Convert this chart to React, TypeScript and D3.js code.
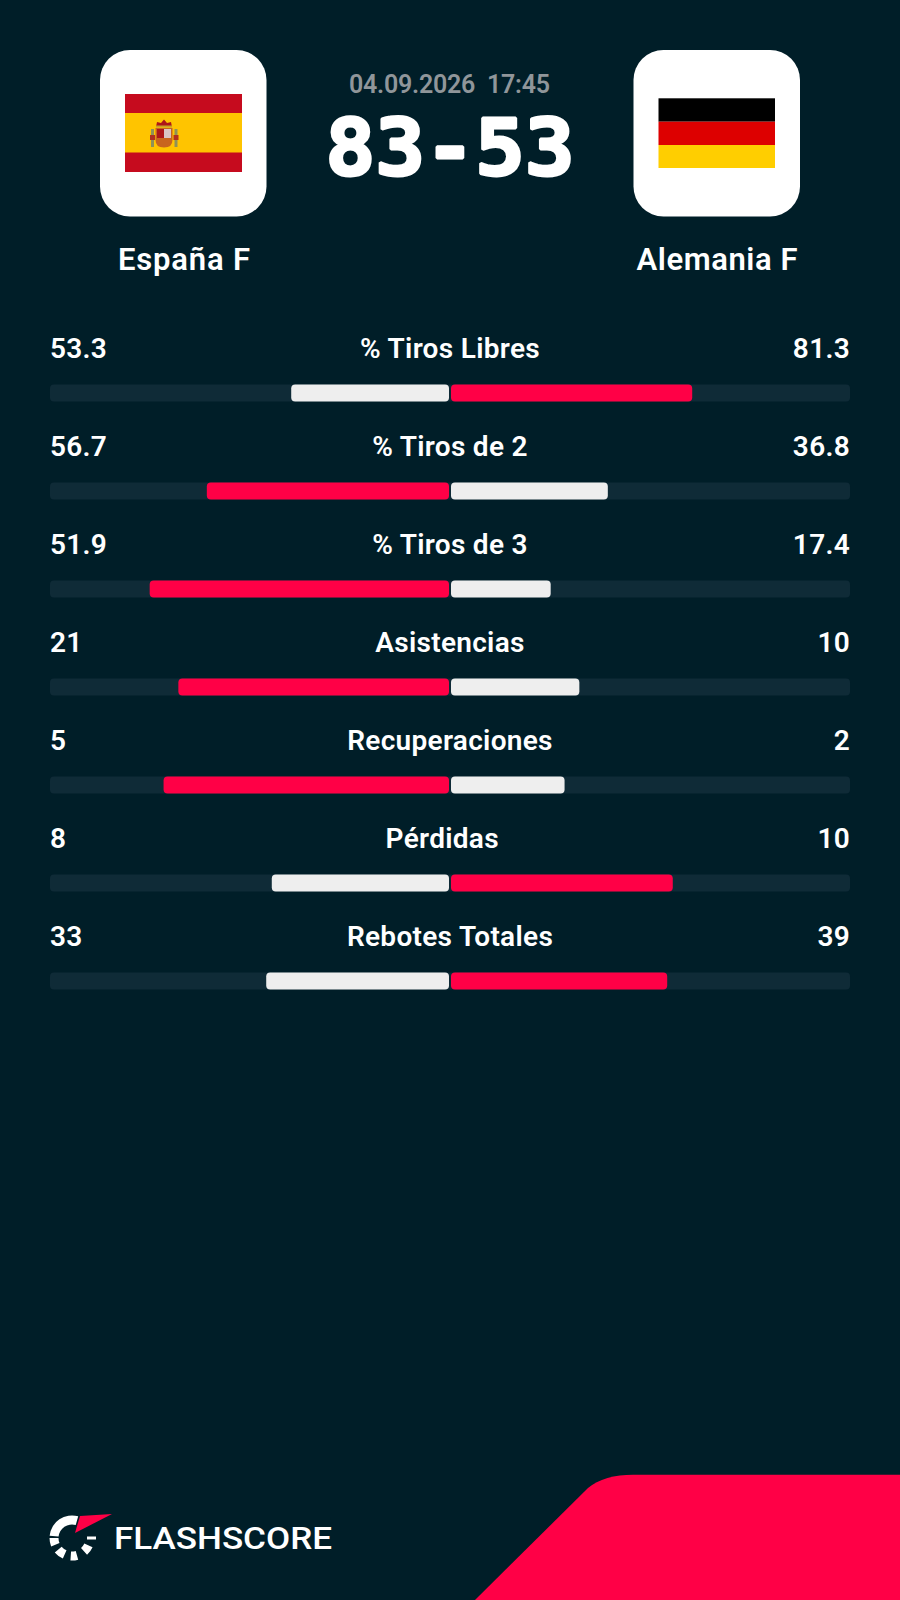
import React from "react";
import * as d3 from "d3";

const statLabels = ["% Tiros Libres", "% Tiros de 2", "% Tiros de 3", "Asistencias", "Recuperaciones", "Pérdidas", "Rebotes Totales"];
const homeValues = [53.3, 56.7, 51.9, 21, 5, 8, 33];
const awayValues = [81.3, 36.8, 17.4, 10, 2, 10, 39];
const homeTeam = "España F";
const awayTeam = "Alemania F";
const matchDate = "04.09.2026";
const matchTime = "17:45";
const score = "83-53";
const brand = "FLASHSCORE";

const BG = "#001E28";
const TRACK = "#0F2B37";
const RED = "#FF0046";
const LIGHT = "#EEEEEE";
const FONT = "Roboto, sans-serif";
const DIGIT_W = 15.5;

const rowY = d3.scaleLinear().domain([0, 1]).range([358, 456]);
const share = d3.scaleLinear().domain([0, 1]).range([0, 401]);

function Logo() {
  const arc = d3.arc();
  const seg = (a: number, b: number, r0 = 13.5, r1 = 22.5) =>
    arc({ innerRadius: r0, outerRadius: r1, startAngle: (a * Math.PI) / 180, endAngle: (b * Math.PI) / 180 }) as string;
  return (
    <g>
      <g transform="translate(72,1538)" fill="#fff">
        <path d={seg(-84, 16)} />
        <path d={seg(-112, -90)} />
        <path d={seg(-156, -130)} />
        <path d={seg(-196, -176)} />
        <path d={seg(-246, -222)} />
      </g>
      <rect x={87} y={1536.5} width={9} height={3} fill="#fff" />
      <polygon points="112,1514 80,1516 75,1533" fill={RED} />
      <text x={114} y={1549} fontFamily={FONT} fontSize={32} fontWeight={500} fill="#fff" textLength={218} lengthAdjust="spacingAndGlyphs">
        {brand}
      </text>
    </g>
  );
}

function SpainFlag() {
  return (
    <g>
      <rect x={125} y={94} width={117} height={78} fill="#C60B1E" />
      <rect x={125} y={113} width={117} height={39.5} fill="#FFC400" />
      <g>
        <path d="M156,127 L157,122 L161,123 L164,119.5 L167,123 L171,122 L172,127 Z" fill="#AD1519" />
        <rect x={156} y={125.5} width={16} height={2} fill="#C8A028" />
        <path d="M155.5,128 H172.5 V140 Q172.5,147.5 164,147.5 Q155.5,147.5 155.5,140 Z" fill="#C8641E" />
        <rect x={164} y={129} width={7} height={9} fill="#D9C4C4" />
        <rect x={157} y={129} width={7} height={9} fill="#AD1519" />
        <rect x={151} y={129} width={3} height={18} fill="#8F9158" />
        <rect x={174.5} y={129} width={3} height={18} fill="#8F9158" />
        <rect x={150} y={135} width={5} height={5} fill="#B03020" />
        <rect x={173.5} y={135} width={5} height={5} fill="#B03020" />
      </g>
    </g>
  );
}

function GermanyFlag() {
  return (
    <g>
      <rect x={658.5} y={98.3} width={116.5} height={23.4} fill="#000" />
      <rect x={658.5} y={121.7} width={116.5} height={23.3} fill="#DD0000" />
      <rect x={658.5} y={145} width={116.5} height={23} fill="#FFCE00" />
    </g>
  );
}

export default function App() {
  const t = { fontFamily: FONT, fill: "#fff", fontWeight: 600 };
  return (
    <svg width={900} height={1600} viewBox="0 0 900 1600" style={{ position: "absolute", left: 0, top: 0, display: "block" }}>
      <rect width={900} height={1600} fill={BG} />

      <rect x={100} y={50} width={166.5} height={166.5} rx={30} fill="#fff" />
      <rect x={633.5} y={50} width={166.5} height={166.5} rx={30} fill="#fff" />
      <SpainFlag />
      <GermanyFlag />

      <text x={449.5} y={93} textAnchor="middle" fontFamily={FONT} fontSize={25} fontWeight={600} fill="#90969A" xmlSpace="preserve" textLength={201} lengthAdjust="spacing">
        {matchDate + "  " + matchTime}
      </text>
      <text x={450} y={174.5} textAnchor="middle" fontFamily="'DejaVu Sans Mono', monospace" fontSize={78} fontWeight={700} fill="#fff" stroke="#fff" strokeWidth={3} strokeLinejoin="bevel" textLength={249} lengthAdjust="spacingAndGlyphs">
        {score}
      </text>

      <text {...t} x={184} y={270} textAnchor="middle" fontSize={31} textLength={132} lengthAdjust="spacing">{homeTeam}</text>
      <text {...t} x={717} y={270} textAnchor="middle" fontSize={31} textLength={161} lengthAdjust="spacing">{awayTeam}</text>

      {statLabels.map((label, i) => {
        const h = homeValues[i];
        const a = awayValues[i];
        const total = h + a;
        const y = rowY(i);
        const hw = share(h / total);
        const aw = share(a / total);
        const labelX = 450 + ((String(h).length - String(a).length) * DIGIT_W) / 2;
        return (
          <g key={label}>
            <text {...t} x={50} y={y} fontSize={28} letterSpacing={0.3}>{String(h)}</text>
            <text {...t} x={labelX} y={y} textAnchor="middle" fontSize={28} letterSpacing={0.3}>{label}</text>
            <text {...t} x={850} y={y} textAnchor="end" fontSize={28} letterSpacing={0.3}>{String(a)}</text>
            <rect x={50} y={y + 26.5} width={800} height={17} rx={4} fill={TRACK} />
            <rect x={450 - hw} y={y + 26.5} width={hw - 1} height={17} rx={4} fill={h > a ? RED : LIGHT} />
            <rect x={451} y={y + 26.5} width={aw - 1} height={17} rx={4} fill={a > h ? RED : LIGHT} />
          </g>
        );
      })}

      <Logo />
      <path d="M475,1600 L588,1488 C598,1479 615,1474.7 633,1474.7 L900,1474.7 L900,1600 Z" fill={RED} />
    </svg>
  );
}
